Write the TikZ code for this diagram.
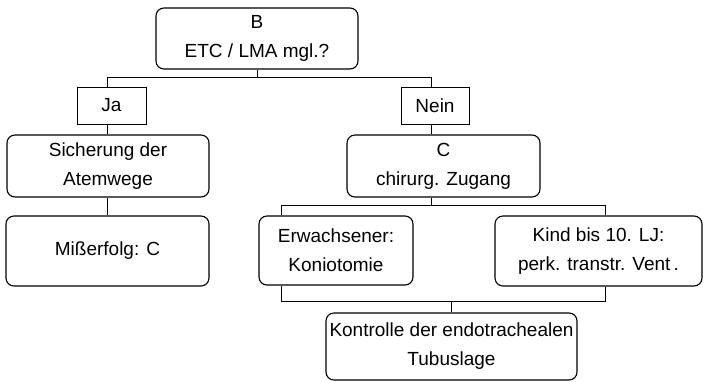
\documentclass[tikz,border=0pt]{standalone}
\usepackage{fontspec}
\setmainfont{Liberation Sans}
\usetikzlibrary{positioning,calc}
\tikzset{
  rbox/.style={draw,rounded corners=8pt,align=center,line width=1.1pt,
               inner sep=0pt,font=\fontsize{19}{29}\selectfont},
  abox/.style={rbox,sharp corners,line width=0.9pt},
  conn/.style={line width=1pt},
}

\begin{document}
\begin{tikzpicture}[x=1pt,y=-1pt]
  \useasboundingbox (0,0) rectangle (703,381);
  % decision
  \node[rbox,minimum width=202pt,minimum height=61pt] (b) at (257,38.5) {B\\ETC / LMA mgl.?};
  \node[abox,minimum width=69pt,minimum height=37pt] (ja) at (111.5,105.5) {Ja};
  \node[abox,minimum width=68pt,minimum height=37pt] (nein) at (435,105.5) {Nein};
  % left branch
  \node[rbox,minimum width=202pt,minimum height=62pt] (sich) at (108,166) {Sicherung der\\Atemwege};
  \node[rbox,minimum width=203pt,minimum height=70pt] (miss) at (107.5,251) {Mißerfolg: C};
  % right branch
  \node[rbox,minimum width=193pt,minimum height=62pt] (c) at (443.5,166) {C\\chirurg. Zugang};
  \node[rbox,minimum width=154pt,minimum height=69pt] (erw) at (336,250.5) {Erwachsener:\\Koniotomie};
  \node[rbox,minimum width=207pt,minimum height=70pt] (kind) at (598.5,251) {Kind bis 10. LJ:\\perk. transtr. Vent\,.};
  \node[rbox,minimum width=251pt,minimum height=67pt] (kontr) at (451.5,346.5) {Kontrolle der endotrachealen\\Tubuslage};
  % junctions
  \coordinate (lt) at (107,77);
  \coordinate (rt) at (431,77);
  \coordinate (lx) at (281,205);
  \coordinate (rx) at (605,301);
  \draw[conn] (b.south) -- (b.south |- lt);
  \draw[conn] (ja.north -| lt) -- (lt) -- (rt) -- (nein.north -| rt);
  \draw[conn] (ja.south -| lt) -- (sich.north -| lt);
  \draw[conn] (sich.south -| lt) -- (miss.north -| lt);
  \draw[conn] (nein.south -| rt) -- (c.north -| rt);
  \draw[conn] (c.south -| rt) -- (rt |- lx);
  \draw[conn] (erw.north -| lx) -- (lx) -- (lx -| rx) -- (kind.north -| rx);
  \draw[conn] (erw.south -| lx) -- (lx |- rx) -- (rx) -- (kind.south -| rx);
  \draw[conn] (kontr.north |- rx) -- (kontr.north);
\end{tikzpicture}
\end{document}
